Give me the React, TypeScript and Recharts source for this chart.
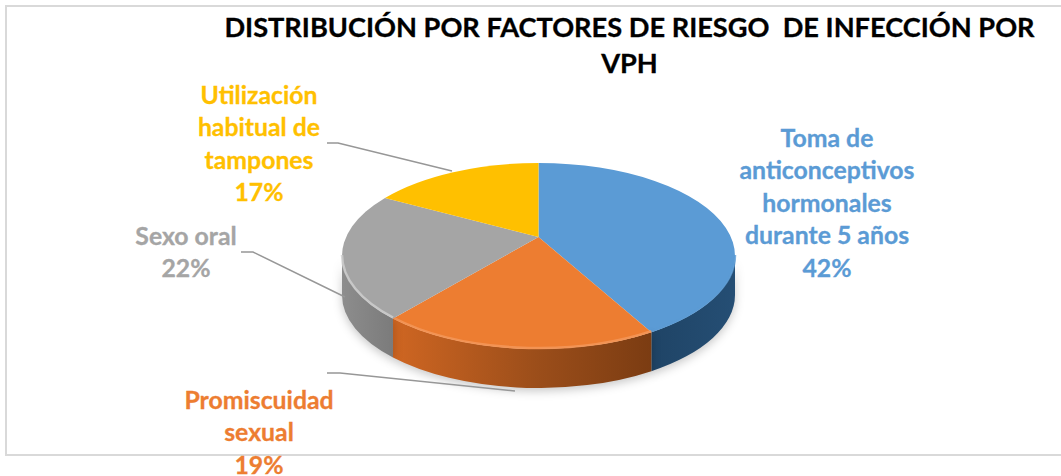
import { PieChart, Pie } from "recharts";

const categories = [
  "Toma de anticonceptivos hormonales durante 5 años",
  "Promiscuidad sexual",
  "Sexo oral",
  "Utilización habitual de tampones",
];
const values = [42, 19, 22, 17];
const colors = ["#5b9bd5", "#ed7d31", "#a5a5a5", "#ffc000"];
const rimColors = ["#5b9bd5", "#f4995c", "#cfcfcf", "#ffc000"];
const titleLines = ["DISTRIBUCIÓN POR FACTORES DE RIESGO  DE INFECCIÓN POR", "VPH"];
const labelLines = [
  ["Toma de", "anticonceptivos", "hormonales", "durante 5 años"],
  ["Promiscuidad", "sexual"],
  ["Sexo oral"],
  ["Utilización", "habitual de", "tampones"],
];
const labelAnchors = [
  { x: 827, y: 147 },
  { x: 259, y: 409 },
  { x: 186, y: 245 },
  { x: 259, y: 104 },
];
const leaders = [
  "",
  "327,373 340,373 515,391",
  "241,252 253,252 345,297",
  "327,143 338,143 452,171",
];

const data = categories.map((name, i) => ({ name, value: values[i] }));

const WIDTH = 1061;
const HEIGHT = 476;
const SQUASH = 93 / 196.5;
const TILT = 0.204;
const DEPTH = 39;
const LINE = 32.4;

// the slices are laid out by the Pie; this only tilts them into perspective
function tilt(deg: number) {
  const rad = (deg * Math.PI) / 180;
  const x = Math.cos(rad);
  const y = Math.sin(rad);
  const k = 1 + TILT * y;
  const px = (x * Math.sqrt(1 - TILT * TILT)) / k;
  const py = (y + TILT) / k;
  return (Math.atan2(px, py) * 180) / Math.PI;
}

function Slice(props: any) {
  const { cx, cy, outerRadius: rx, startAngle, endAngle, index } = props;
  const ry = rx * SQUASH;
  const at = (t: number, dy = 0) => {
    const rad = (t * Math.PI) / 180;
    return `${cx + rx * Math.sin(rad)} ${cy - ry * Math.cos(rad) + dy}`;
  };
  const t0 = (tilt(startAngle) + 360) % 360;
  let t1 = (tilt(endAngle) + 360) % 360;
  if (t1 <= t0) t1 += 360;
  const large = t1 - t0 > 180 ? 1 : 0;
  const top = `M ${cx} ${cy - ry * TILT} L ${at(t0)} A ${rx} ${ry} 0 ${large} 1 ${at(t1)} Z`;

  const s0 = Math.max(t0, 90);
  const s1 = Math.min(t1, 270);
  const hasSide = s1 > s0;
  return (
    <g>
      {hasSide && (
        <path
          d={`M ${at(s0)} A ${rx} ${ry} 0 0 1 ${at(s1)} L ${at(s1, DEPTH)} A ${rx} ${ry} 0 0 0 ${at(s0, DEPTH)} Z`}
          fill={`url(#side${index})`}
          style={{ filter: "drop-shadow(0 3px 5px rgba(0,0,0,0.22))" }}
        />
      )}
      <path d={top} fill={colors[index]} />
      {hasSide && (
        <path
          d={`M ${at(s0, -1)} A ${rx} ${ry} 0 0 1 ${at(s1, -1)}`}
          fill="none"
          stroke={rimColors[index]}
          strokeWidth={2.5}
          opacity={0.8}
        />
      )}
    </g>
  );
}

function SliceLabel(props: any) {
  const { index, value } = props;
  const lines = [...labelLines[index], `${value}%`];
  const { x, y } = labelAnchors[index];
  return (
    <g>
      {leaders[index] && (
        <polyline points={leaders[index]} fill="none" stroke="#979797" strokeWidth={1.5} />
      )}
      <text
        x={x}
        y={y}
        textAnchor="middle"
        fill={colors[index]}
        stroke={colors[index]}
        strokeWidth={0.3}
        fontFamily="Lato"
        fontWeight={700}
        fontSize={24.8}
      >
        {lines.map((line, i) => (
          <tspan key={line} x={x} y={y + i * LINE}>
            {line}
          </tspan>
        ))}
      </text>
    </g>
  );
}

export default function App() {
  return (
    <div
      style={{
        position: "absolute",
        left: 0,
        top: 0,
        width: WIDTH,
        height: HEIGHT,
        overflow: "hidden",
        background: "#fff",
      }}
    >
      <div
        style={{
          position: "absolute",
          left: 5,
          top: 5,
          width: WIDTH,
          height: 451,
          border: "2px solid #d9d9d9",
          boxSizing: "border-box",
        }}
      />
      <PieChart
        width={WIDTH}
        height={HEIGHT}
        margin={{ top: 0, right: 0, bottom: 0, left: 0 }}
        style={{ position: "absolute", left: 0, top: 0 }}
      >
        <defs>
          <linearGradient id="side0" x1="0" y1="0" x2="1" y2="0">
            <stop offset="0" stopColor="#1f4466" />
            <stop offset="1" stopColor="#254e74" />
          </linearGradient>
          <linearGradient id="side1" x1="0" y1="0" x2="1" y2="0">
            <stop offset="0" stopColor="#cf6622" />
            <stop offset="0.55" stopColor="#9c4e1a" />
            <stop offset="1" stopColor="#7b3c12" />
          </linearGradient>
          <linearGradient id="side2" x1="0" y1="0" x2="1" y2="0">
            <stop offset="0" stopColor="#8d8d8d" />
            <stop offset="1" stopColor="#7b7b7b" />
          </linearGradient>
          <linearGradient id="side3" x1="0" y1="0" x2="1" y2="0">
            <stop offset="0" stopColor="#ffc000" />
            <stop offset="1" stopColor="#ffc000" />
          </linearGradient>
        </defs>
        <text
          x={629.5}
          y={37}
          textAnchor="middle"
          fontFamily="Lato"
          fontWeight={700}
          fontSize={27.2}
          fill="#000"
          stroke="#000"
          strokeWidth={0.3}
          style={{ whiteSpace: "pre" }}
        >
          {titleLines[0]}
        </text>
        <text
          x={629.5}
          y={73}
          textAnchor="middle"
          fontFamily="Lato"
          fontWeight={700}
          fontSize={27.2}
          fill="#000"
          stroke="#000"
          strokeWidth={0.3}
        >
          {titleLines[1]}
        </text>
        <Pie
          data={data}
          dataKey="value"
          nameKey="name"
          cx={538.5}
          cy={256}
          outerRadius={196.5}
          startAngle={90}
          endAngle={-270}
          stroke="none"
          shape={Slice}
          label={SliceLabel}
          labelLine={false}
          isAnimationActive={false}
        />
      </PieChart>
    </div>
  );
}
